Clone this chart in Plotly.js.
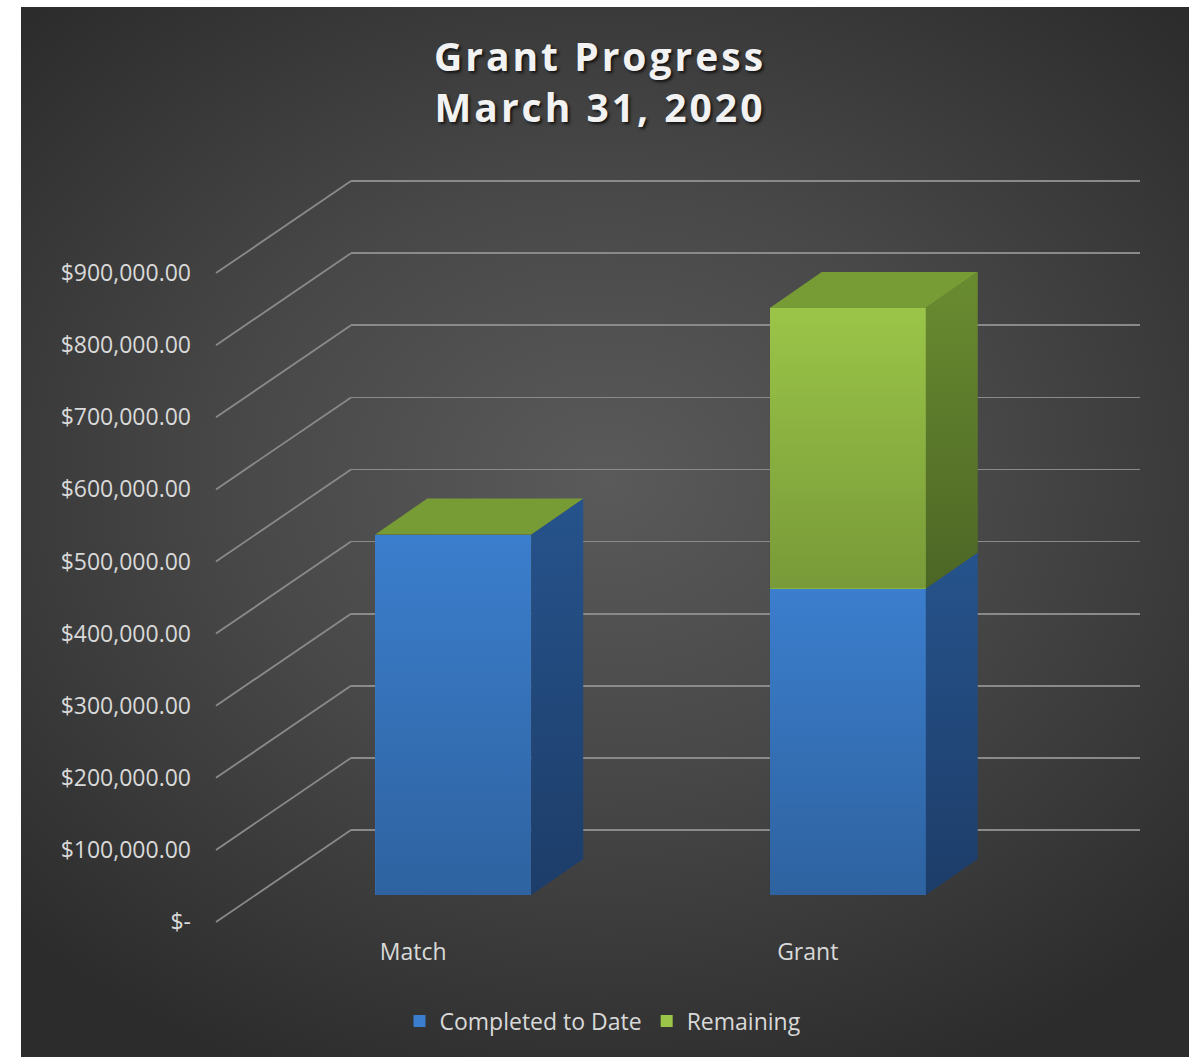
<!DOCTYPE html>
<html><head><meta charset="utf-8">
<script src="https://cdn.plot.ly/plotly-3.0.1.min.js"></script>
<style>
html,body{margin:0;padding:0;background:#ffffff;width:1189px;height:1057px;overflow:hidden}
#chart{position:absolute;left:21px;top:7px;width:1168px;height:1050px;
 background:radial-gradient(ellipse 70% 62% at 50% 45%, #5a5a5a 0%, #484848 45%, #2c2c2c 100%);}
.gtitle{letter-spacing:3px}
</style></head><body><div id="chart"></div>
<script>
// ---- data ----
const categories = ['Match', 'Grant'];
const seriesNames = ['Completed to Date', 'Remaining'];
const completedToDate = [500000, 425000];
const remaining = [0, 389000];
const tickValues = [0, 100000, 200000, 300000, 400000, 500000, 600000, 700000, 800000, 900000];
const tickLabels = ['$-', '$100,000.00', '$200,000.00', '$300,000.00', '$400,000.00',
  '$500,000.00', '$600,000.00', '$700,000.00', '$800,000.00', '$900,000.00'];

// ---- layout geometry (pixels of the page) ----
const OX = 21, OY = 7, W = 1168, H = 1050;
const K = 72.1 / 100000;       // px per dollar
const RMIN = -20000, RMAX = 1000000;
const PW = 789;                // plane width px
const front = {left: 216, zero: 922};
const barPlane = {left: 256, zero: 895};
const back = {left: 351, zero: 830};
const px = X => (X - OX) / W;
const py = Y => 1 - (Y - OY) / H;
const xDom = p => [px(p.left), px(p.left + PW)];
const yDom = p => [py(p.zero - RMIN * K), py(p.zero - RMAX * K)];

const unitPx = PW / 2;
const hw = 78 / unitPx, ddx = 52 / unitPx, ddy = 36 / K;

const colors = {
  front: ['#3b7ecd', '#9ac548'],
  side: [['#1d3d69', '#26538c'], ['#4c6625', '#6a8c30']],
  top: ['#2f65a8', '#789c35']
};
const gridColor = '#8a8a8a';
const textColor = '#d9d9d9';
const series = [completedToDate, remaining];

const traces = [];
// empty trace to create the back-wall subplot
traces.push({x: [], y: [], xaxis: 'x', yaxis: 'y', type: 'scatter', showlegend: false, hoverinfo: 'skip'});
series.forEach((vals, s) => {
  traces.push({
    type: 'bar', name: seriesNames[s], x: categories.map((c, i) => i), y: vals,
    xaxis: 'x2', yaxis: 'y2', width: 2 * hw,
    marker: {color: colors.front[s], line: {width: 0}},
    hovertext: categories, hoverinfo: 'text+y+name'
  });
});
// 3D shading: front-face shade, side and top faces, all computed from the data
categories.forEach((c, i) => {
  let base = 0;
  series.forEach((vals, s) => {
    const top = base + vals[i];
    if (vals[i] > 0) {
      const xl = i - hw, xr = i + hw;
      traces.push({
        type: 'scatter', mode: 'lines', xaxis: 'x2', yaxis: 'y2', showlegend: false, hoverinfo: 'skip',
        x: [xl, xr, xr, xl, xl], y: [base, base, top, top, base],
        fill: 'toself', line: {width: 0, color: 'rgba(0,0,0,0)'},
        fillcolor: 'rgba(0,0,0,0)',
        fillgradient: {type: 'vertical', colorscale: [[0, 'rgba(0,0,0,0.22)'], [1, 'rgba(0,0,0,0)']]}
      });
      traces.push({
        type: 'scatter', mode: 'lines', xaxis: 'x2', yaxis: 'y2', showlegend: false, hoverinfo: 'skip',
        x: [xr, xr + ddx, xr + ddx, xr, xr],
        y: [base, base + ddy, top + ddy, top, base],
        fill: 'toself', line: {width: 0, color: colors.side[s][1]},
        fillcolor: colors.side[s][1],
        fillgradient: {type: 'vertical', colorscale: [[0, colors.side[s][0]], [1, colors.side[s][1]]]}
      });
    }
    base = top;
  });
  const last = series.length - 1;
  traces.push({
    type: 'scatter', mode: 'lines', xaxis: 'x2', yaxis: 'y2', showlegend: false, hoverinfo: 'skip',
    x: [i - hw, i - hw + ddx, i + hw + ddx, i + hw, i - hw],
    y: [base, base + ddy, base + ddy, base, base],
    fill: 'toself', line: {width: 0, color: colors.top[last]}, fillcolor: colors.top[last]
  });
});
// empty trace to create the front (label) subplot
traces.push({x: [], y: [], xaxis: 'x3', yaxis: 'y3', type: 'scatter', showlegend: false, hoverinfo: 'skip'});

// side-wall diagonal gridlines
const shapes = tickValues.map(v => ({
  type: 'line', xref: 'paper', yref: 'paper',
  x0: px(front.left), y0: py(front.zero - v * K),
  x1: px(back.left), y1: py(back.zero - v * K),
  line: {color: gridColor, width: 1.8}
}));

const fontFam = 'Open Sans, Noto Sans, sans-serif';
const layout = {
  width: W, height: H,
  margin: {l: 0, r: 0, t: 0, b: 0},
  paper_bgcolor: 'rgba(0,0,0,0)', plot_bgcolor: 'rgba(0,0,0,0)',
  barmode: 'stack', showlegend: true,
  title: {
    text: 'Grant Progress<br>March 31, 2020',
    font: {family: fontFam, size: 39, color: '#f2f2f2', weight: 'bold', shadow: '2px 2px 3px rgba(0,0,0,0.7)'},
    x: px(600), xanchor: 'center', xref: 'paper',
    y: 1 - (71 - OY) / H, yanchor: 'top', yref: 'container'
  },
  xaxis: {domain: xDom(back), anchor: 'y', range: [-0.5, 1.5], visible: false, fixedrange: true},
  yaxis: {domain: yDom(back), anchor: 'x', range: [RMIN, RMAX], tickmode: 'array', tickvals: tickValues,
    showticklabels: false, showgrid: true, gridcolor: gridColor, gridwidth: 1.8, zeroline: false,
    showline: false, ticks: '', fixedrange: true},
  xaxis2: {domain: xDom(barPlane), anchor: 'y2', range: [-0.5, 1.5], visible: false, fixedrange: true},
  yaxis2: {domain: yDom(barPlane), anchor: 'x2', range: [RMIN, RMAX], visible: false, fixedrange: true},
  xaxis3: {domain: xDom(front), anchor: 'y3', range: [-0.5, 1.5], tickmode: 'array',
    tickvals: categories.map((c, i) => i), ticktext: categories, showgrid: false, zeroline: false,
    showline: false, ticks: '', ticklabelstandoff: 0,
    tickfont: {family: fontFam, size: 23, color: textColor}, fixedrange: true},
  yaxis3: {domain: yDom(front), anchor: 'x3', range: [RMIN, RMAX], tickmode: 'array',
    tickvals: tickValues, ticktext: tickLabels, showgrid: false, zeroline: false, showline: false,
    ticks: '', ticklabelstandoff: 24,
    tickfont: {family: fontFam, size: 23, color: textColor}, fixedrange: true},
  legend: {orientation: 'h', x: px(603), xanchor: 'center', y: py(1021), yanchor: 'middle',
    font: {family: fontFam, size: 23, color: textColor}, bgcolor: 'rgba(0,0,0,0)', traceorder: 'normal'},
  shapes: shapes
};

Plotly.newPlot('chart', traces, layout, {displayModeBar: false, staticPlot: true});
</script></body></html>
